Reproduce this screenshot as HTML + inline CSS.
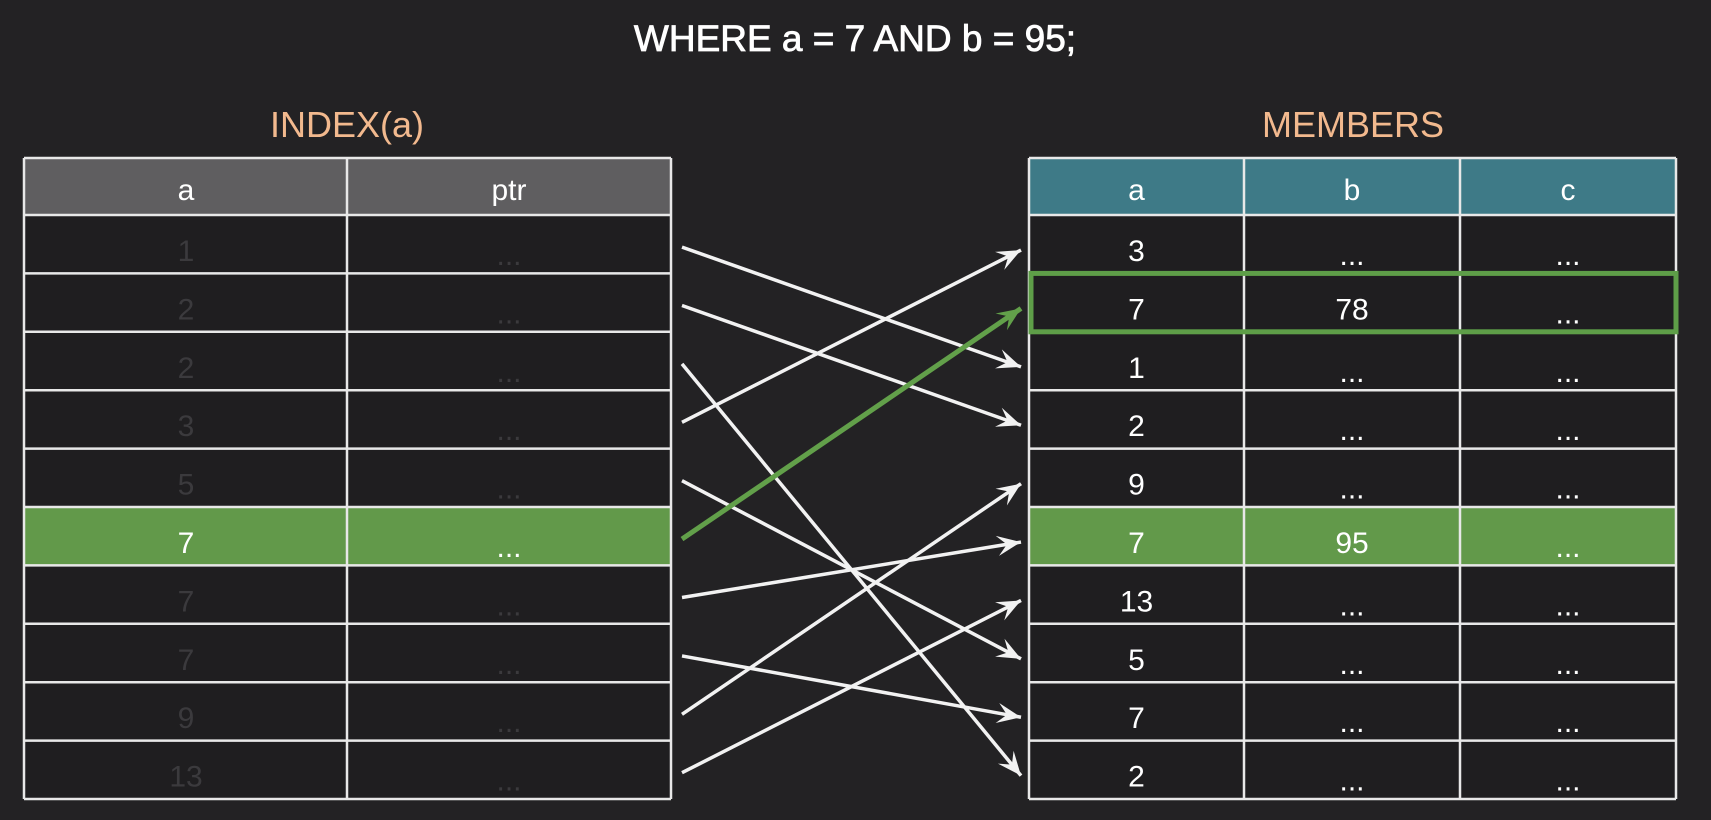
<!DOCTYPE html>
<html><head><meta charset="utf-8"><style>
html,body{margin:0;padding:0;background:#232224;}
svg{display:block;font-family:"Liberation Sans",sans-serif;}
</style></head><body>
<svg id="s" width="1711" height="820" viewBox="0 0 1711 820">
<rect width="1711" height="820" fill="#232224"/>
<text x="855" y="51" text-anchor="middle" fill="#ffffff" font-size="37" stroke="#ffffff" stroke-width="0.8">WHERE a = 7 AND b = 95;</text>
<text x="347" y="137" text-anchor="middle" fill="#f2b98e" font-size="36">INDEX(a)</text>
<text x="1353" y="137" text-anchor="middle" fill="#f2b98e" font-size="36">MEMBERS</text>
<g id="g"></g>
</svg>
<script>
const indexValues = ["1","2","2","3","5","7","7","7","9","13"];
const memberA = ["3","7","1","2","9","7","13","5","7","2"];
const memberB = ["...","78","...","...","...","95","...","...","...","..."];
const memberC = ["...","...","...","...","...","...","...","...","...","..."];
const arrowFrom = [0,1,2,3,4,5,6,7,8,9];
const arrowTo   = [2,3,9,0,7,1,5,8,4,6];
const highlightIndexRow = 5;
const highlightMemberRow = 5;
const outlineMemberRow = 1;

const NS="http://www.w3.org/2000/svg";
const g=document.getElementById('g');
const top0=158, hdrH=57, rowH=58.4;
const rowY=i=>top0+hdrH+i*rowH;
function el(t,a){const e=document.createElementNS(NS,t);for(const k in a)e.setAttribute(k,a[k]);g.appendChild(e);return e;}
function txt(x,y,s,fill,name){const e=el('text',{x:x,y:y,'text-anchor':'middle',fill:fill,'font-size':30});e.textContent=s;


return e;}
const numOff=46, dotOff=50;

// Left table
const L=[24,347,671];
let h=el('rect',{x:L[0],y:top0,width:L[2]-L[0],height:hdrH,fill:'#5f5e60'});


txt(186,top0+42,'a','#fff','index-header-a');
txt(509,top0+42,'ptr','#fff','index-header-ptr');
indexValues.forEach((v,i)=>{
  const hl=i===highlightIndexRow;
  const r=el('rect',{x:L[0],y:rowY(i),width:L[2]-L[0],height:rowH,fill:hl?'#62994a':'#1f1e20'});
  
  
  const c=hl?'#ffffff':'#3b3a3d';
  txt(186,rowY(i)+numOff,v,c,'index-a-cell');
  txt(509,rowY(i)+dotOff,'...',c,'index-ptr-cell');
});
for(let i=0;i<=10;i++){const l=el('line',{x1:L[0],x2:L[2],y1:rowY(i),y2:rowY(i),stroke:'#e8e8e8','stroke-width':2.5});

}
let ln=el('line',{x1:L[0],x2:L[2],y1:top0,y2:top0,stroke:'#e8e8e8','stroke-width':2.5});


L.forEach(x=>{const l=el('line',{x1:x,x2:x,y1:top0,y2:rowY(10),stroke:'#e8e8e8','stroke-width':2.5});

});

// Right table
const R=[1029,1244,1460,1676];
h=el('rect',{x:R[0],y:top0,width:R[3]-R[0],height:hdrH,fill:'#3e7a87'});


['a','b','c'].forEach((s,j)=>txt((R[j]+R[j+1])/2,top0+42,s,'#fff','members-header-'+s));
memberA.forEach((v,i)=>{
  const hl=i===highlightMemberRow;
  const r=el('rect',{x:R[0],y:rowY(i),width:R[3]-R[0],height:rowH,fill:hl?'#62994a':'#1f1e20'});
  
  
  [v,memberB[i],memberC[i]].forEach((s,j)=>txt((R[j]+R[j+1])/2,rowY(i)+(s==='...'?dotOff:numOff),s,'#fff','members-cell'));
});
for(let i=0;i<=10;i++){const l=el('line',{x1:R[0],x2:R[3],y1:rowY(i),y2:rowY(i),stroke:'#e8e8e8','stroke-width':2.5});

}
ln=el('line',{x1:R[0],x2:R[3],y1:top0,y2:top0,stroke:'#e8e8e8','stroke-width':2.5});


R.forEach(x=>{const l=el('line',{x1:x,x2:x,y1:top0,y2:rowY(10),stroke:'#e8e8e8','stroke-width':2.5});

});
const ob=el('rect',{x:R[0]+2,y:rowY(outlineMemberRow),width:R[3]-R[0]-2,height:rowH,fill:'none',stroke:'#5e9e48','stroke-width':5});



// Arrows
const x1=682,x2=1021;
function arrow(ya,yb,col,w,name){
  const l=el('line',{x1:x1,y1:ya,x2:x2,y2:yb,stroke:col,'stroke-width':w});
  
  
  const a=Math.atan2(yb-ya,x2-x1),len=26,sp=0.4;
  const p=[[x2,yb],[x2-len*Math.cos(a-sp),yb-len*Math.sin(a-sp)],[x2-len*0.55*Math.cos(a),yb-len*0.55*Math.sin(a)],[x2-len*Math.cos(a+sp),yb-len*Math.sin(a+sp)]];
  const hd=el('polygon',{points:p.map(q=>q.join(',')).join(' '),fill:col});
  
  
}
arrowFrom.forEach((f,k)=>{
  const t=arrowTo[k];
  const green=f===highlightIndexRow;
  arrow(rowY(f)+rowH*0.55,rowY(t)+rowH*0.6,green?'#62a04a':'#f2f2f2',green?5:3.5,green?'match-pointer-arrow':'pointer-arrow');
});
</script>
</body></html>
